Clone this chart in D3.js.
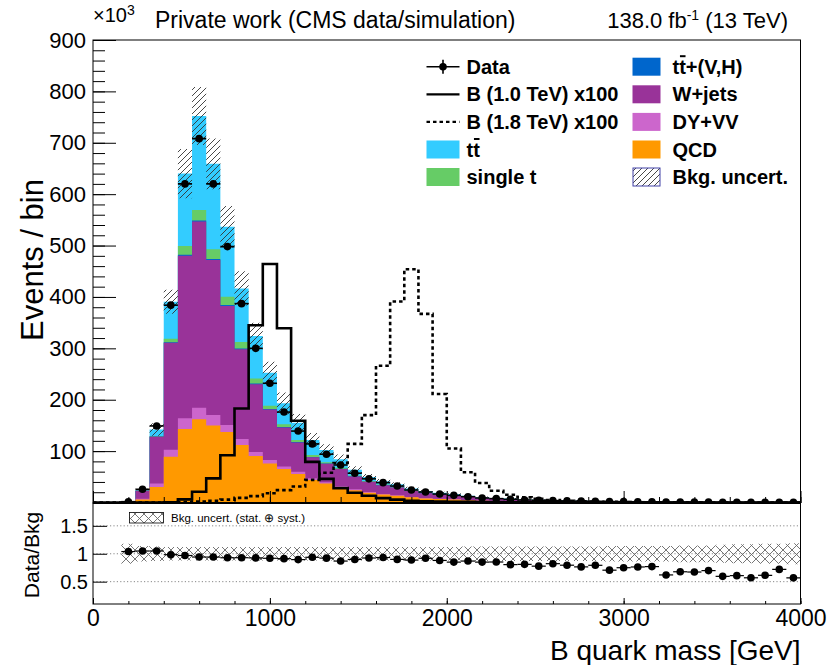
<!DOCTYPE html>
<html>
<head>
<meta charset="utf-8">
<script src="https://cdn.jsdelivr.net/npm/d3@7"></script>
<style>
  body { margin: 0; background: #fff; }
  svg text { font-family: "Liberation Sans", Arial, Helvetica, sans-serif; }
</style>
</head>
<body>
<div id="chart"></div>
<script>
// B quark mass: stacked backgrounds, data and two signal points (x100)
// all yields in thousands of events per 80 GeV bin

const binEdges = d3.range(0, 4001, 80);

const qcd = [0,0,0.3,6,30,89,143,162,150,137,112,90.5,76,65,55.5,44,37,30,24,19,15.5,13,10,8,6.8,5.8,4.6,3.6,3.1,2.7,2.1,1.9,1.55,1.35,1.18,1.0,0.88,0.76,0.65,0.57,0.5,0.44,0.38,0.33,0.29,0.255,0.225,0.197,0.172,0.152];
const dyvv = [0,0,0.1,1.5,7,13.5,21,22.5,20.5,14,11.5,8,6.5,5,4.5,3,2.5,2,1.6,1.3,1.1,1,0.8,0.6,0.5,0.45,0.35,0.3,0.25,0.22,0.17,0.15,0.13,0.11,0.1,0.08,0.07,0.06,0.05,0.05,0.04,0.035,0.03,0.026,0.023,0.02,0.018,0.016,0.014,0.012];
const wjets = [0,0,0.9,15.5,91,208.5,316,362.5,301.5,231.5,174.5,131.5,98.5,76,57,41,36,33,25,20,17,15,11.5,9.5,8,7,5.6,4.5,3.8,3.35,2.65,2.35,1.98,1.72,1.5,1.28,1.13,0.97,0.85,0.73,0.64,0.56,0.49,0.43,0.37,0.33,0.29,0.254,0.223,0.196];
const ttv = [0,0,0,0.1,0.3,1,2,2,2,2,1.5,1.5,1,1,0.8,0.7,0.5,0.5,0.4,0.3,0.3,0.2,0.2,0.15,0.1,0.1,0.08,0.07,0.06,0.05,0.04,0.04,0.03,0.03,0.02,0.02,0.02,0.02,0.01,0.01,0.01,0.01,0.01,0.008,0.007,0.006,0.005,0.005,0.004,0.004];
const singleT = [0,0,0.02,0.3,1.2,6.5,17,20,19,16,13,10,6.5,5.5,4,3.5,2.5,2,1.5,1.2,1,0.9,0.7,0.55,0.45,0.4,0.32,0.26,0.22,0.19,0.15,0.13,0.11,0.1,0.08,0.07,0.06,0.05,0.05,0.04,0.04,0.03,0.03,0.025,0.022,0.02,0.017,0.015,0.013,0.012];
const ttbar = [0,0,0.2,1.1,12.5,72,141,183,166,136,104,82.5,64,40.5,33.5,29.5,23.5,16.5,11,8,6.5,5.5,4.2,3.4,2.9,2.6,2.05,1.62,1.37,1.19,0.94,0.83,0.7,0.59,0.52,0.45,0.39,0.34,0.29,0.25,0.22,0.195,0.16,0.141,0.128,0.109,0.095,0.083,0.074,0.064];

const data = [0,0,1.58,25.7,149,384,620,708,620,498,387,300,232,176,139,114,94,73,57,46,38.6,32,24.3,20.4,16.5,13.9,11.3,8.8,7.5,6.2,4.9,4.2,3.7,3.1,2.6,2.3,1.8,1.65,1.45,1.27,0.9,0.86,0.74,0.67,0.5,0.45,0.37,0.35,0.36,0.25];

// relative background uncertainty as drawn in the upper panel
const bkgUnc = [0,0,0.2,0.1,0.085,0.06,0.075,0.075,0.075,0.075,0.08,0.08,0.085,0.11,0.11,0.11,0.11,0.11,0.11,0.11,0.11,0.11,0.11,0.11,0.11,0.11,0.12,0.12,0.12,0.12,0.12,0.12,0.12,0.12,0.12,0.12,0.13,0.13,0.13,0.13,0.13,0.14,0.14,0.14,0.15,0.16,0.16,0.17,0.17,0.18];
// half width of the (stat. + syst.) band as drawn in the ratio panel
const ratioUnc = [0,0,0.18,0.14,0.13,0.12,0.12,0.12,0.12,0.12,0.12,0.12,0.12,0.12,0.12,0.12,0.12,0.12,0.12,0.12,0.12,0.12,0.12,0.12,0.12,0.12,0.13,0.13,0.13,0.13,0.13,0.13,0.13,0.13,0.13,0.13,0.14,0.14,0.14,0.14,0.14,0.15,0.15,0.15,0.16,0.17,0.17,0.18,0.18,0.19];

// signal, already scaled x100
const sig1000 = [0,0,0,0,0,0.5,6,21,47,92,183,345,464,339,159,79,46,28,19,13,8.5,5.5,3.5,2.5,2,1.5,1.2,1,0.8,0.6,0.5,0.4,0.3,0.25,0.2,0.15,0.12,0.1,0.08,0.06,0.05,0.04,0.03,0.03,0.02,0.02,0.02,0.01,0.01,0.01];
const sig1800 = [0,0,0,0,0,0.3,1,2,3.5,5.5,9,12.5,18,24,31,44,58,77,114,170,266,391,454,367,211,105,59,38,23,15,10,7,5,3.5,2.5,1.8,1.2,0.9,0.6,0.45,0.3,0.2,0.15,0.1,0.08,0.06,0.05,0.04,0.03,0.02];

const yTicks = [100, 200, 300, 400, 500, 600, 700, 800, 900];
const ratioTicks = [0.5, 1, 1.5];
const xTicks = [0, 1000, 2000, 3000, 4000];

const keys = ["qcd", "dyvv", "wjets", "ttv", "singlet", "ttbar"];
const colors = {qcd: "#ff9900", dyvv: "#cc66cc", wjets: "#993399", ttv: "#0066cc", singlet: "#66cc66", ttbar: "#33ccff"};

// ---------------------------------------------------------------
const W = 828, H = 665;
const fr = {left: 93, right: 800.5, top: 40, mid: 503, bottom: 604};

const bins = d3.range(binEdges.length - 1).map(i => ({
    lo: binEdges[i], hi: binEdges[i + 1],
    qcd: qcd[i], dyvv: dyvv[i], wjets: wjets[i], ttv: ttv[i], singlet: singleT[i], ttbar: ttbar[i],
    data: data[i], unc: bkgUnc[i], runc: ratioUnc[i], s1: sig1000[i], s2: sig1800[i]
}));
bins.forEach(b => b.total = d3.sum(keys, k => b[k]));

const x = d3.scaleLinear([0, 4000], [fr.left, fr.right]);
const y = d3.scaleLinear([0, 900], [502.5, fr.top]);
const yr = d3.scaleLinear([0.1, 1.9], [fr.bottom, fr.mid + 0.5]);

const svg = d3.select("#chart").append("svg")
    .attr("width", W).attr("height", H);

const defs = svg.append("defs");
defs.append("pattern").attr("id", "hatch")
    .attr("patternUnits", "userSpaceOnUse").attr("width", 6).attr("height", 6)
    .append("path").attr("d", "M-1,1 L1,-1 M0,6 L6,0 M5,7 L7,5")
    .attr("stroke", "#333").attr("stroke-width", 0.9);
const xh = defs.append("pattern").attr("id", "xhatch")
    .attr("patternUnits", "userSpaceOnUse").attr("width", 9).attr("height", 9)
    .attr("y", 1);
xh.append("path").attr("d", "M0,0 L9,9 M9,0 L0,9")
    .attr("stroke", "#666").attr("stroke-width", 0.9);
defs.append("clipPath").attr("id", "clipMain")
    .append("rect").attr("x", fr.left).attr("y", fr.top)
    .attr("width", fr.right - fr.left).attr("height", fr.mid - fr.top);
defs.append("clipPath").attr("id", "clipRatio")
    .append("rect").attr("x", fr.left).attr("y", fr.mid)
    .attr("width", fr.right - fr.left).attr("height", fr.bottom - fr.mid);

// step helpers: one point per bin low edge, plus the last high edge
const stepPts = (f) => bins.map(b => ({x: b.lo, v: f(b)}))
    .concat([{x: bins[bins.length - 1].hi, v: f(bins[bins.length - 1])}]);

// ---------------- main panel ----------------
const gMain = svg.append("g").attr("clip-path", "url(#clipMain)");

const stacked = d3.stack().keys(keys)(bins);
const area = d3.area().curve(d3.curveStepAfter)
    .x(d => x(d.x)).y0(y(0)).y1(d => y(d.v));

// draw cumulative areas top-down so no seams between layers
stacked.slice().reverse().forEach(layer => {
    const pts = layer.map((p, i) => ({x: bins[i].lo, v: p[1]}));
    pts.push({x: bins[bins.length - 1].hi, v: layer[layer.length - 1][1]});
    gMain.append("path").attr("d", area(pts)).attr("fill", colors[layer.key]);
});

// background uncertainty band
const band = d3.area().curve(d3.curveStepAfter)
    .x(d => x(d.x)).y0(d => y(d.lo)).y1(d => y(d.hi));
gMain.append("path")
    .attr("d", band(bins.map(b => ({x: b.lo, lo: b.total * (1 - b.unc), hi: b.total * (1 + b.unc)}))
        .concat([{x: 4000, lo: 0, hi: 0}])))
    .attr("fill", "url(#hatch)");

// signals
const step = d3.line().curve(d3.curveStepAfter).x(d => x(d.x)).y(d => y(d.v));
gMain.append("path").attr("d", step(stepPts(b => b.s1)))
    .attr("fill", "none").attr("stroke", "#000").attr("stroke-width", 2.6);
gMain.append("path").attr("d", step(stepPts(b => b.s2)))
    .attr("fill", "none").attr("stroke", "#000").attr("stroke-width", 2.6)
    .attr("stroke-dasharray", "3.5,3");

// data
const dataBins = bins.filter(b => b.data > 0);
const gData = gMain.append("g").attr("stroke", "#000").attr("stroke-width", 1.6);
gData.selectAll("line.h").data(dataBins).join("line").attr("class", "h")
    .attr("x1", b => x(b.lo)).attr("x2", b => x(b.hi))
    .attr("y1", b => y(b.data)).attr("y2", b => y(b.data));
gData.selectAll("line.v").data(dataBins).join("line").attr("class", "v")
    .attr("x1", b => x((b.lo + b.hi) / 2)).attr("x2", b => x((b.lo + b.hi) / 2))
    .attr("y1", b => y(b.data + Math.sqrt(b.data * 1000) / 1000))
    .attr("y2", b => y(b.data - Math.sqrt(b.data * 1000) / 1000));
gMain.selectAll("circle.d").data(dataBins).join("circle").attr("class", "d")
    .attr("cx", b => x((b.lo + b.hi) / 2)).attr("cy", b => y(b.data))
    .attr("r", 3.8).attr("fill", "#000");

// ---------------- ratio panel ----------------
const gRatio = svg.append("g").attr("clip-path", "url(#clipRatio)");
const rBins = bins.filter(b => b.total > 0);

gRatio.selectAll("line.grid").data(ratioTicks).join("line")
    .attr("x1", fr.left).attr("x2", fr.right)
    .attr("y1", d => yr(d)).attr("y2", d => yr(d))
    .attr("stroke", "#888").attr("stroke-width", 1).attr("stroke-dasharray", "1.2,2.2");

const rband = d3.area().curve(d3.curveStepAfter)
    .x(d => x(d.x)).y0(d => yr(d.lo)).y1(d => yr(d.hi));
const lastR = rBins[rBins.length - 1];
gRatio.append("path")
    .attr("d", rband(rBins.map(b => ({x: b.lo, lo: 1 - b.runc, hi: 1 + b.runc}))
        .concat([{x: 4000, lo: 1 - lastR.runc, hi: 1 + lastR.runc}])))
    .attr("fill", "url(#xhatch)");

rBins.forEach(b => {
    b.ratio = b.data / b.total;
    b.rerr = Math.sqrt(b.data * 1000) / 1000 / b.total;
});
const gR = gRatio.append("g").attr("stroke", "#000").attr("stroke-width", 1.2);
gR.selectAll("line.h").data(rBins).join("line").attr("class", "h")
    .attr("x1", b => x(b.lo)).attr("x2", b => x(b.hi))
    .attr("y1", b => yr(b.ratio)).attr("y2", b => yr(b.ratio));
gR.selectAll("line.v").data(rBins).join("line").attr("class", "v")
    .attr("x1", b => x((b.lo + b.hi) / 2)).attr("x2", b => x((b.lo + b.hi) / 2))
    .attr("y1", b => yr(b.ratio + b.rerr)).attr("y2", b => yr(b.ratio - b.rerr));
gRatio.selectAll("circle.r").data(rBins).join("circle").attr("class", "r")
    .attr("cx", b => x((b.lo + b.hi) / 2)).attr("cy", b => yr(b.ratio))
    .attr("r", 3.8).attr("fill", "#000");

// ---------------- axes ----------------
function clean(g) {
    g.select(".domain").remove();
    g.attr("font-family", null);
}

// main y
svg.append("g").attr("transform", `translate(${fr.left},0)`)
    .call(d3.axisLeft(y).tickValues(d3.range(0, 901, 20)).tickSize(-12).tickFormat(""))
    .call(clean);
svg.append("g").attr("transform", `translate(${fr.left},0)`)
    .call(d3.axisLeft(y).tickValues(yTicks).tickSize(-23).tickPadding(7))
    .call(clean).attr("font-size", 22);

// main x (ticks only)
svg.append("g").attr("transform", `translate(0,${fr.mid})`)
    .call(d3.axisBottom(x).tickValues(d3.range(0, 4001, 200)).tickSize(-6).tickFormat(""))
    .call(clean);
svg.append("g").attr("transform", `translate(0,${fr.mid})`)
    .call(d3.axisBottom(x).tickValues(xTicks).tickSize(-12).tickFormat(""))
    .call(clean);

// ratio y
svg.append("g").attr("transform", `translate(${fr.left},0)`)
    .call(d3.axisLeft(yr).tickValues(ratioTicks).tickSize(-14).tickPadding(5).tickFormat(d3.format("")))
    .call(clean).attr("font-size", 20);

// ratio x
svg.append("g").attr("transform", `translate(0,${fr.bottom})`)
    .call(d3.axisBottom(x).tickValues(d3.range(0, 4001, 200)).tickSize(-3).tickFormat(""))
    .call(clean);
svg.append("g").attr("transform", `translate(0,${fr.bottom})`)
    .call(d3.axisBottom(x).tickValues(xTicks).tickSize(-6).tickPadding(6).tickFormat(d3.format("d")))
    .call(clean).attr("font-size", 23);

// frames
svg.append("rect").attr("x", fr.left).attr("y", fr.top)
    .attr("width", fr.right - fr.left).attr("height", fr.mid - fr.top)
    .attr("fill", "none").attr("stroke", "#000").attr("stroke-width", 1);
svg.append("rect").attr("x", fr.left).attr("y", fr.mid)
    .attr("width", fr.right - fr.left).attr("height", fr.bottom - fr.mid)
    .attr("fill", "none").attr("stroke", "#000").attr("stroke-width", 1);
svg.append("line").attr("x1", fr.left).attr("x2", fr.right)
    .attr("y1", fr.mid).attr("y2", fr.mid).attr("stroke", "#000").attr("stroke-width", 2.2);

// ---------------- titles ----------------
const t10 = svg.append("text").attr("x", fr.left).attr("y", 22).attr("font-size", 20);
t10.append("tspan").text("\u00d710");
t10.append("tspan").attr("dy", -7).attr("font-size", 14).text("3");

svg.append("text").attr("x", 155).attr("y", 28).attr("font-size", 23)
    .text("Private work (CMS data/simulation)");

const lumi = svg.append("text").attr("x", 788).attr("y", 28).attr("font-size", 22)
    .attr("text-anchor", "end");
lumi.append("tspan").text("138.0 fb");
lumi.append("tspan").attr("dy", -8).attr("font-size", 14).text("-1");
lumi.append("tspan").attr("dy", 8).text(" (13 TeV)");

svg.append("text").attr("transform", "translate(43,260) rotate(-90)")
    .attr("text-anchor", "middle").attr("font-size", 31).text("Events / bin");
svg.append("text").attr("transform", "translate(39,555) rotate(-90)")
    .attr("text-anchor", "middle").attr("font-size", 21).text("Data/Bkg");
svg.append("text").attr("x", fr.right).attr("y", 660).attr("text-anchor", "end")
    .attr("font-size", 28).text("B quark mass [GeV]");

// ---------------- legend ----------------
const legRows = [66.7, 94.3, 121.9, 149.5, 177];
const col1 = [
    {label: "Data", type: "data"},
    {label: "B (1.0 TeV) x100", type: "solid"},
    {label: "B (1.8 TeV) x100", type: "dashed"},
    {label: "tt", type: "box", key: "ttbar", bar: true},
    {label: "single t", type: "box", key: "singlet"}
];
const col2 = [
    {label: "tt+(V,H)", type: "box", key: "ttv", bar: true},
    {label: "W+jets", type: "box", key: "wjets"},
    {label: "DY+VV", type: "box", key: "dyvv"},
    {label: "QCD", type: "box", key: "qcd"},
    {label: "Bkg. uncert.", type: "unc"}
];
const gLeg = svg.append("g");

function legendEntry(e, cy, x0, x1, tx) {
    if (e.type === "data") {
        gLeg.append("line").attr("x1", x0).attr("x2", x1).attr("y1", cy).attr("y2", cy)
            .attr("stroke", "#000").attr("stroke-width", 1.6);
        gLeg.append("line").attr("x1", (x0 + x1) / 2).attr("x2", (x0 + x1) / 2)
            .attr("y1", cy - 7).attr("y2", cy + 7).attr("stroke", "#000").attr("stroke-width", 1.6);
        gLeg.append("circle").attr("cx", (x0 + x1) / 2).attr("cy", cy).attr("r", 3.8);
    } else if (e.type === "solid" || e.type === "dashed") {
        gLeg.append("line").attr("x1", x0).attr("x2", x1).attr("y1", cy).attr("y2", cy)
            .attr("stroke", "#000").attr("stroke-width", 2.2)
            .attr("stroke-dasharray", e.type === "dashed" ? "3.5,3" : null);
    } else if (e.type === "box") {
        gLeg.append("rect").attr("x", x0).attr("y", cy - 9).attr("width", x1 - x0).attr("height", 18)
            .attr("fill", colors[e.key]);
    } else {
        gLeg.append("rect").attr("x", x0 + 0.5).attr("y", cy - 9).attr("width", x1 - x0 - 1).attr("height", 18)
            .attr("fill", "url(#hatch)").attr("stroke", "#4343a8").attr("stroke-width", 1);
    }
    const t = gLeg.append("text").attr("x", tx).attr("y", cy + 7)
        .attr("font-size", 20).attr("font-weight", "bold").text(e.label);
    if (e.bar) {
        const n = t.node();
        const p = n.getStartPositionOfChar(1);
        const w = n.getSubStringLength(1, 1);
        gLeg.append("line").attr("x1", p.x + 0.8).attr("x2", p.x + w - 0.3)
            .attr("y1", cy - 10.5).attr("y2", cy - 10.5)
            .attr("stroke", "#000").attr("stroke-width", 2);
    }
}
col1.forEach((e, i) => legendEntry(e, legRows[i], 426.5, 459.5, 466.5));
col2.forEach((e, i) => legendEntry(e, legRows[i], 632.5, 660.5, 672.5));

// ratio legend
svg.append("rect").attr("x", 129.5).attr("y", 512.5).attr("width", 34).attr("height", 10.5)
    .attr("fill", "url(#xhatch)").attr("stroke", "#000").attr("stroke-width", 0.8);
svg.append("text").attr("x", 171).attr("y", 521.5).attr("font-size", 11.5)
    .text("Bkg. uncert. (stat. \u2295 syst.)");
</script>
</body>
</html>
